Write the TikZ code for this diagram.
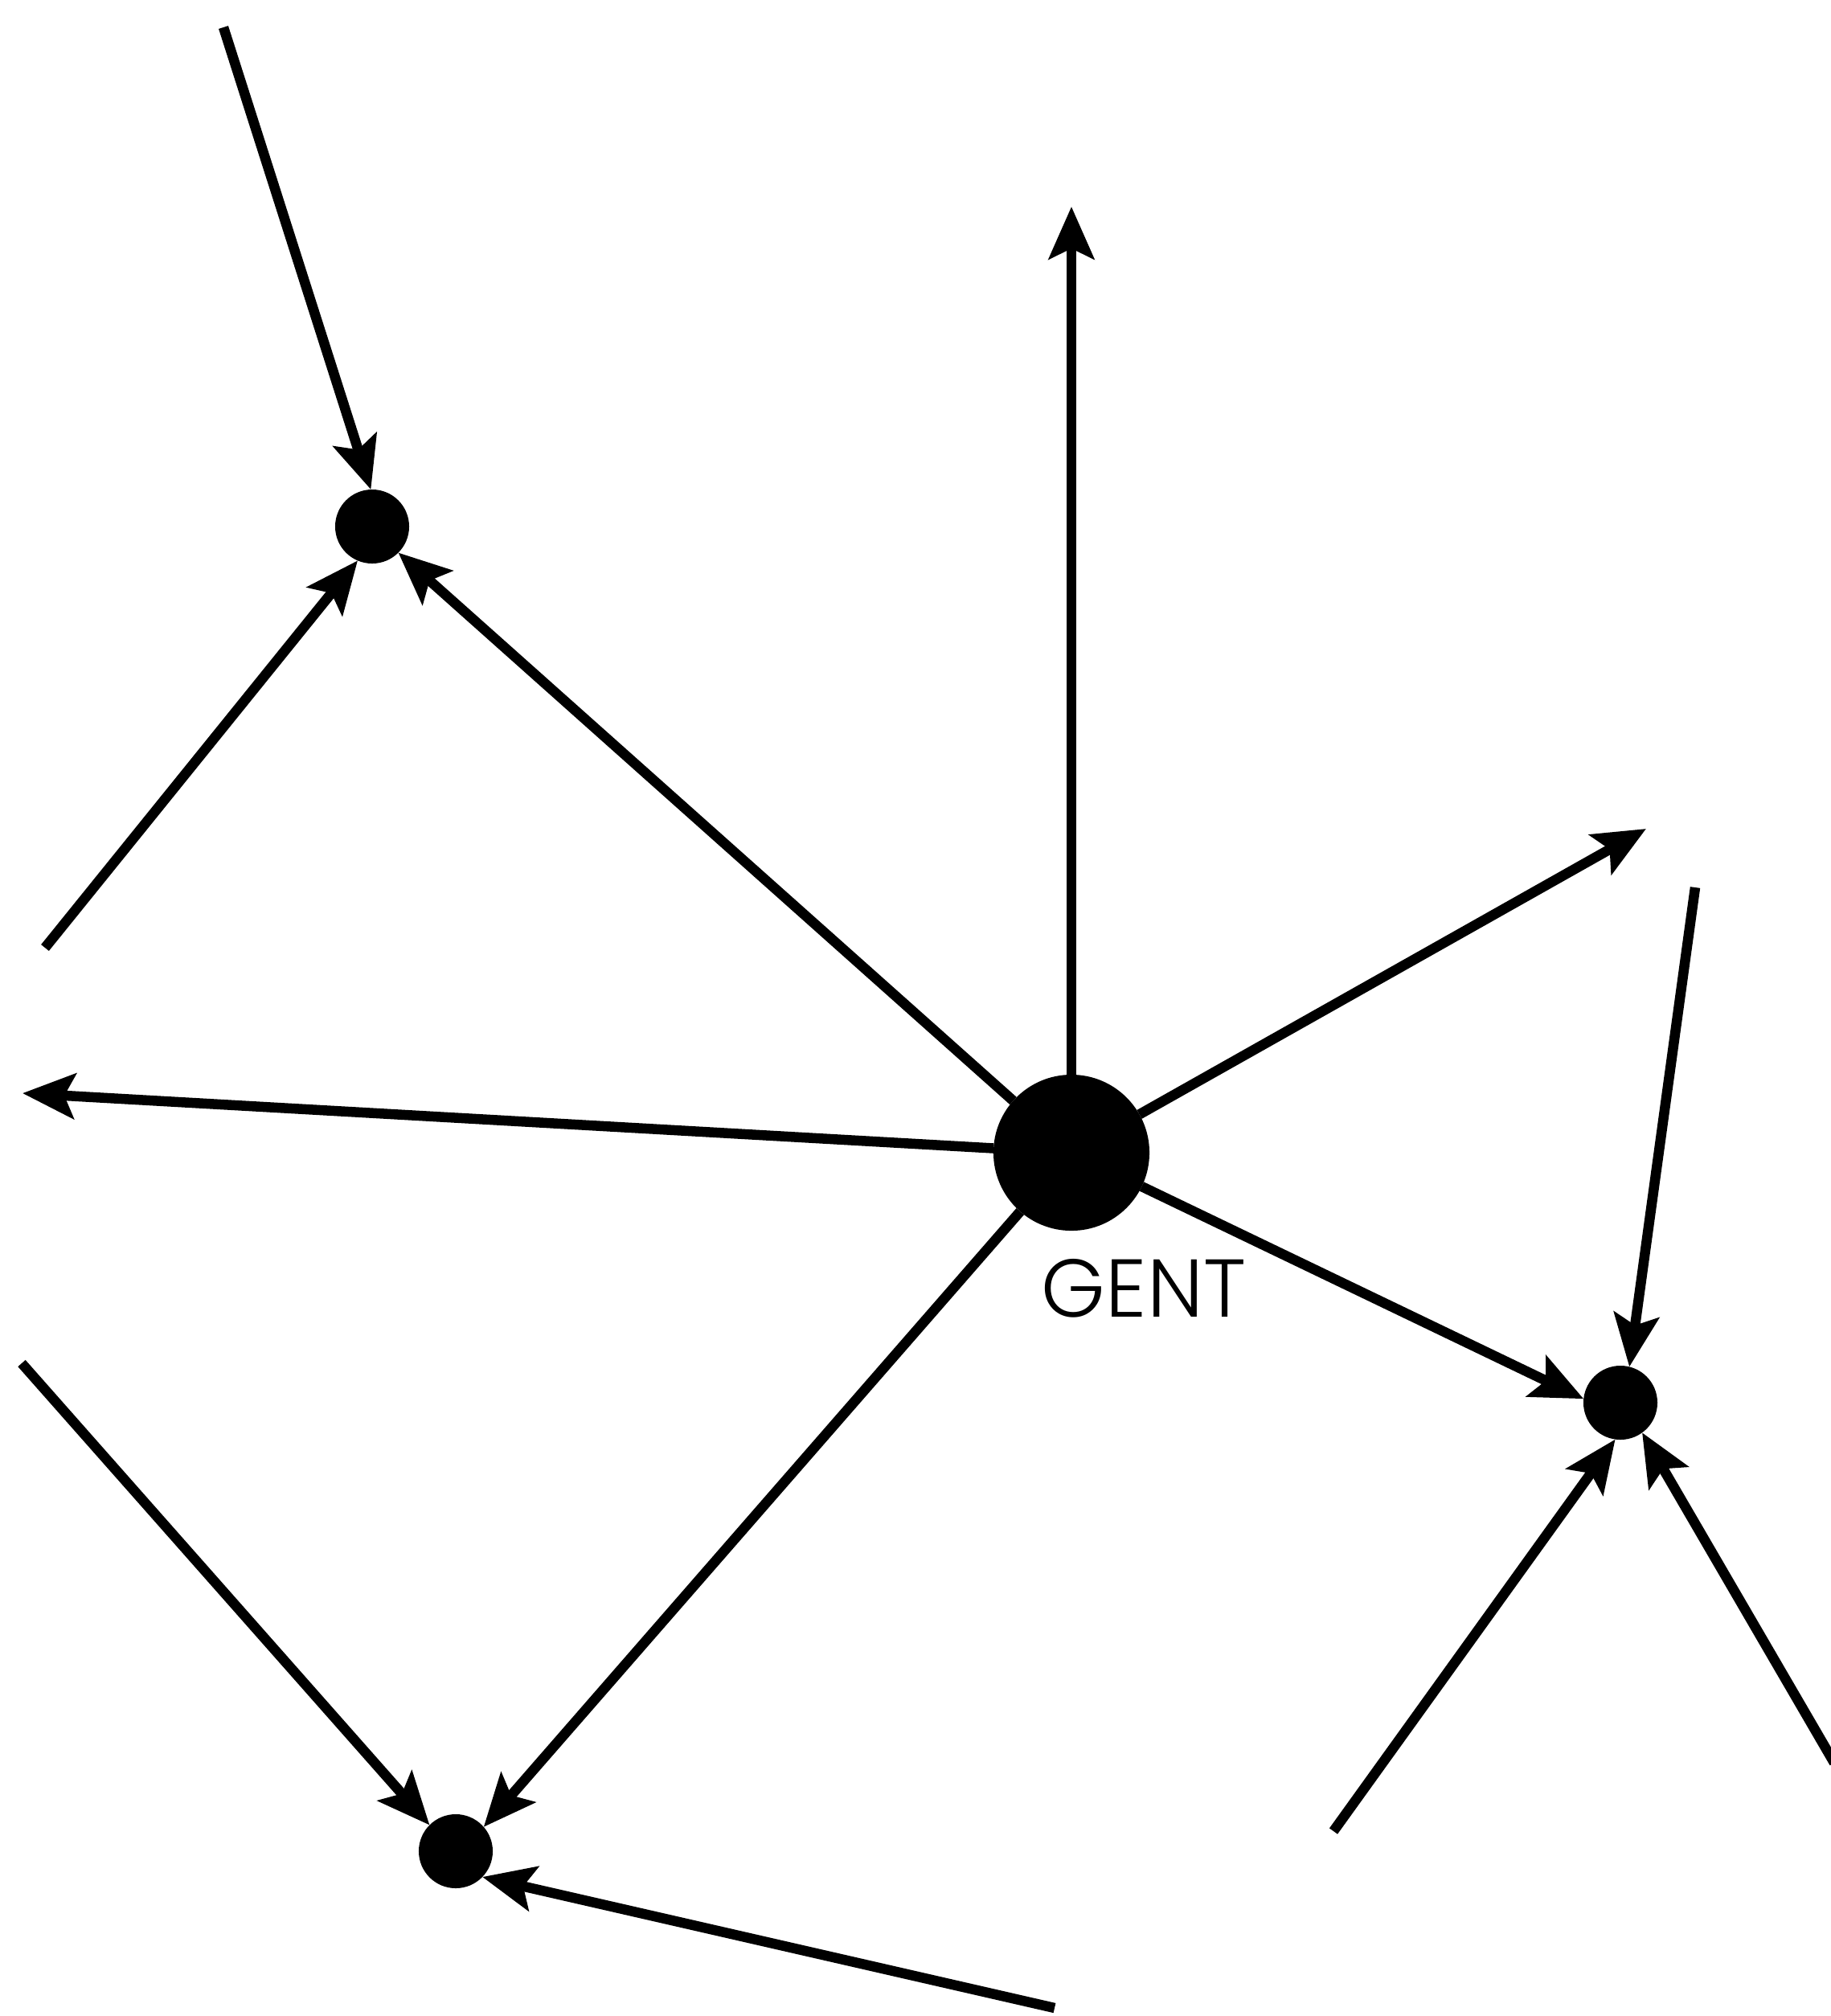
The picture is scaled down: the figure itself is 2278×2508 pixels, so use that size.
\documentclass[tikz,border=0pt]{standalone}
\usepackage{fontspec}
\setmainfont{Poppins}[UprightFont={* Light}]
\usetikzlibrary{arrows.meta}
\tikzset{
  city/.style={circle,fill=black,inner sep=0pt,outer sep=0pt},
  hub/.style={city,minimum size=1.94cm},
  town/.style={city,minimum size=0.92cm},
  link/.style={line width=1.25mm,-{Stealth[length=6.5mm,width=5.6mm,inset=1.3mm]}},
  lbl/.style={font=\fontsize{29}{30}\selectfont,inner sep=0pt},
}
\begin{document}
\begin{tikzpicture}[x=0.01cm,y=-0.01cm]
  \useasboundingbox (0,0) rectangle (2278,2508);
  % towns
  \node[hub] (gent) at (1333,1434) {};
  \node[lbl] (gentlbl) at (1423,1603) {GENT};
  \node[town] (nw) at (463,655) {};
  \node[town] (east) at (2016,1745) {};
  \node[town] (sw) at (567,2303) {};
  % free ends
  \coordinate (nwa) at (278,34);
  \coordinate (nwb) at (56,1179);
  \coordinate (up) at (1333,257);
  \coordinate (ne) at (2048,1031);
  \coordinate (west) at (28,1360);
  \coordinate (ea) at (2109,1104);
  \coordinate (eb) at (1659,2278);
  \coordinate (ec) at (2282,2193);
  \coordinate (swa) at (27,1696);
  \coordinate (swb) at (1312,2498);
  % connectors
  \draw[link] (gent) -- (up);
  \draw[link] (gent) -- (ne);
  \draw[link] (gent) -- (west);
  \draw[link] (gent) -- (nw.315);
  \draw[link] (gent) -- (east.174);
  \draw[link] (gent) -- (sw.41);
  \draw[link] (nwa) -- (nw.92);
  \draw[link] (nwb) -- (nw.247);
  \draw[link] (ea) -- (east.76);
  \draw[link] (eb) -- (east.262);
  \draw[link] (ec) -- (east.306);
  \draw[link] (swa) -- (sw.135);
  \draw[link] (swb) -- (sw.316);
\end{tikzpicture}
\end{document}
